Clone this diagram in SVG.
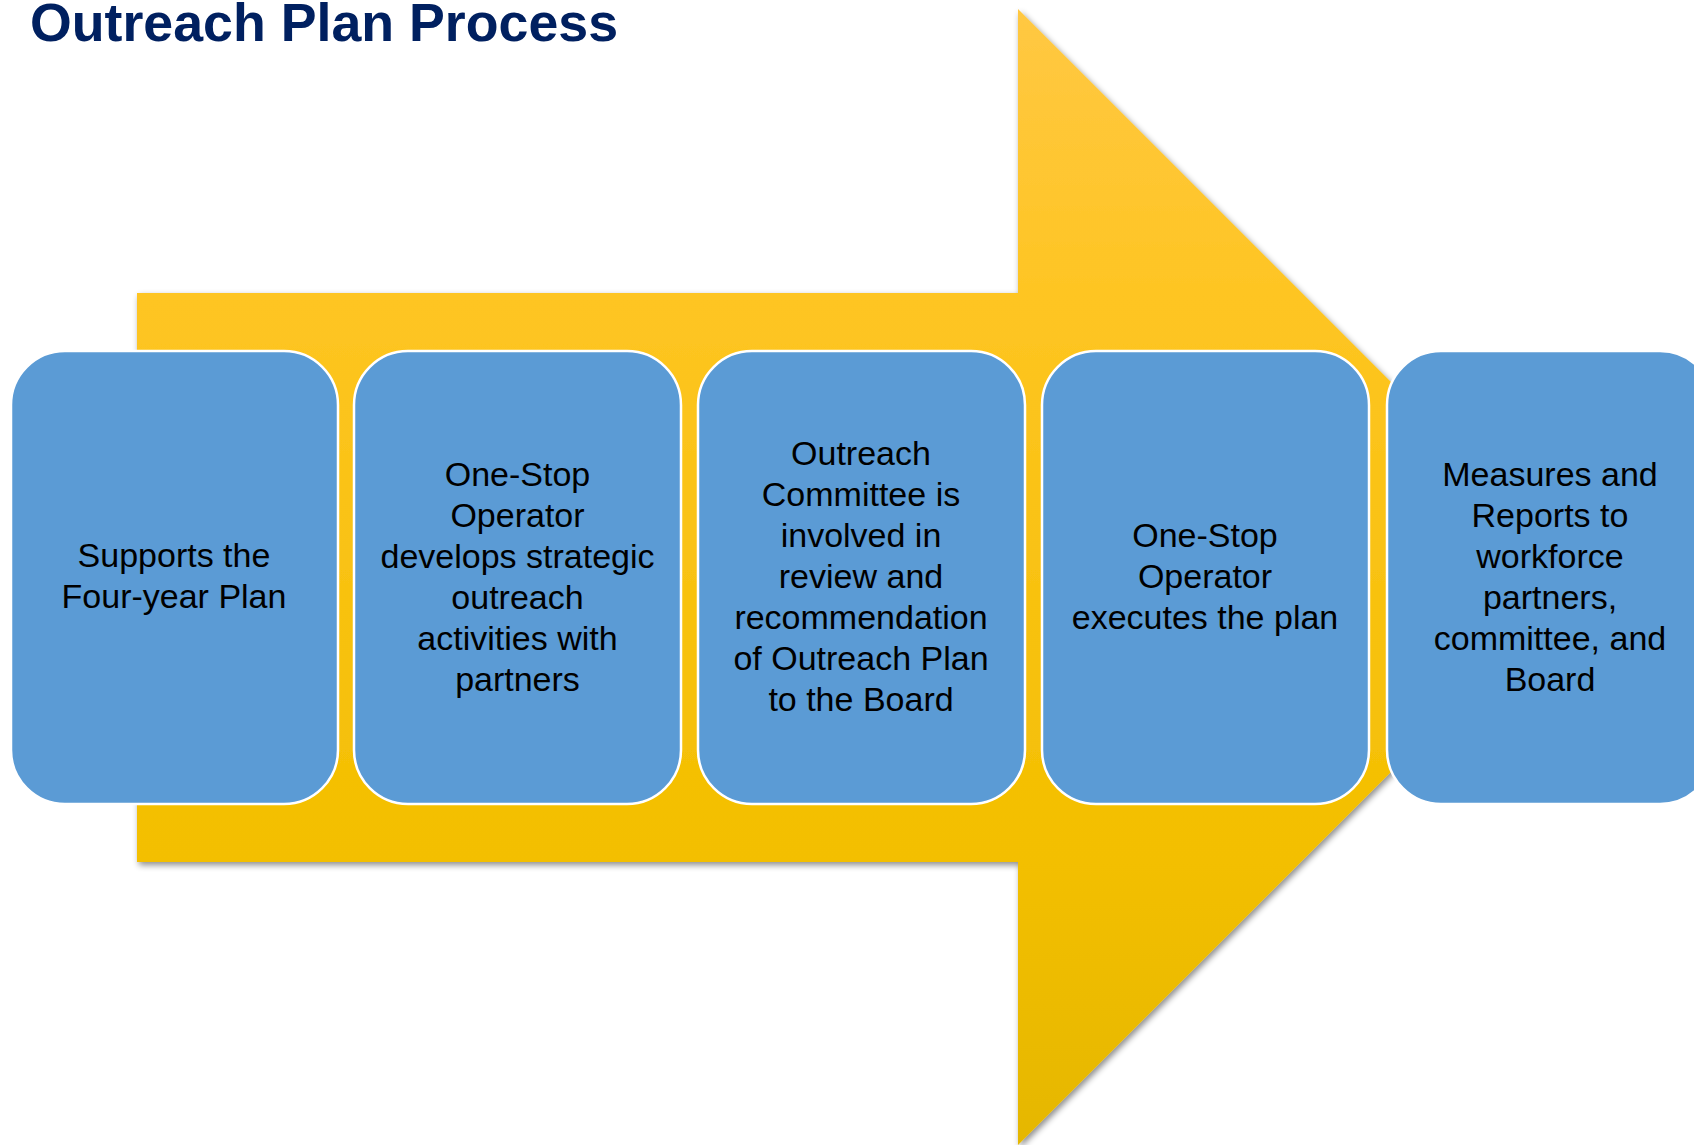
<svg xmlns="http://www.w3.org/2000/svg" width="1694" height="1145" viewBox="0 0 1694 1145">
  <defs>
    <linearGradient id="arrowFill" gradientUnits="userSpaceOnUse" x1="0" y1="9" x2="0" y2="1145">
      <stop offset="0" stop-color="#FFC843"/>
      <stop offset="0.25" stop-color="#FEC523"/>
      <stop offset="0.75" stop-color="#F3BF00"/>
      <stop offset="1" stop-color="#E5B700"/>
    </linearGradient>
    <filter id="softShadow" x="-5%" y="-5%" width="110%" height="110%">
      <feDropShadow dx="2" dy="3" stdDeviation="3" flood-color="#000" flood-opacity="0.45"/>
    </filter>
  </defs>
  <style>
    .title { font-family: "Liberation Sans", Arial, sans-serif; font-weight: bold; font-size: 54px; fill: #002060; }
    .step rect { fill: #5B9BD5; stroke: #FFFFFF; stroke-width: 2.5; }
    .step text { font-family: "Liberation Sans", Arial, sans-serif; font-size: 34px; fill: #000000; text-anchor: middle; }
  </style>

  <rect width="1694" height="1145" fill="#FFFFFF"/>

  <text class="title" x="30" y="41" textLength="588" lengthAdjust="spacingAndGlyphs">Outreach Plan Process</text>

  <!-- large background arrow -->
  <g id="arrow">
    <path d="M137,293 H1018 V9 L1586,577 L1018,1145 V862 H137 Z" fill="url(#arrowFill)" filter="url(#softShadow)"/>
  </g>

  <!-- process steps -->
  <g id="step1" class="step">
    <rect x="11" y="351" width="327" height="453" rx="54" ry="54"/>
    <text x="174" y="567">Supports the</text>
    <text x="174" y="608">Four-year Plan</text>
  </g>
  <g id="step2" class="step">
    <rect x="354" y="351" width="327" height="453" rx="54" ry="54"/>
    <text x="517.5" y="486">One-Stop</text>
    <text x="517.5" y="527">Operator</text>
    <text x="517.5" y="568">develops strategic</text>
    <text x="517.5" y="609">outreach</text>
    <text x="517.5" y="650">activities with</text>
    <text x="517.5" y="691">partners</text>
  </g>
  <g id="step3" class="step">
    <rect x="698" y="351" width="327" height="453" rx="54" ry="54"/>
    <text x="861" y="465">Outreach</text>
    <text x="861" y="506">Committee is</text>
    <text x="861" y="547">involved in</text>
    <text x="861" y="588">review and</text>
    <text x="861" y="629">recommendation</text>
    <text x="861" y="670">of Outreach Plan</text>
    <text x="861" y="711">to the Board</text>
  </g>
  <g id="step4" class="step">
    <rect x="1042" y="351" width="327" height="453" rx="54" ry="54"/>
    <text x="1205" y="547">One-Stop</text>
    <text x="1205" y="588">Operator</text>
    <text x="1205" y="629">executes the plan</text>
  </g>
  <g id="step5" class="step">
    <rect x="1387" y="351" width="327" height="453" rx="54" ry="54"/>
    <text x="1550" y="486">Measures and</text>
    <text x="1550" y="527">Reports to</text>
    <text x="1550" y="568">workforce</text>
    <text x="1550" y="609">partners,</text>
    <text x="1550" y="650">committee, and</text>
    <text x="1550" y="691">Board</text>
  </g>

  <g id="connectors"></g>
</svg>
